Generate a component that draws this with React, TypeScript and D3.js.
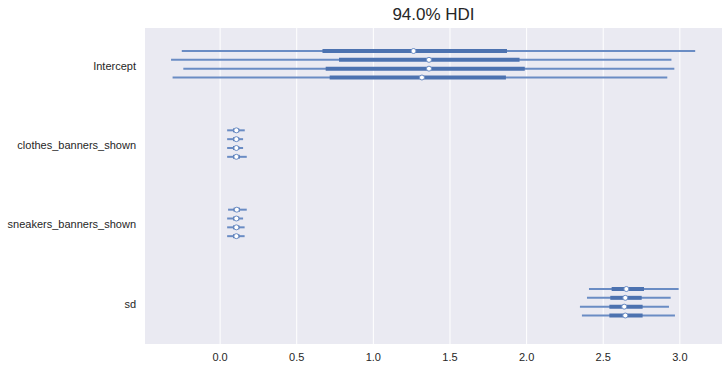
import React, { useEffect, useRef } from "react"
import * as d3 from "d3"

// variables in the forest plot, top to bottom
const variables = ["Intercept", "clothes_banners_shown", "sneakers_banners_shown", "sd"]

// one entry per variable, four chains each
const hdiLow = [
	[-0.25, -0.32, -0.24, -0.31],
	[0.046, 0.046, 0.046, 0.046],
	[0.052, 0.046, 0.046, 0.046],
	[2.407, 2.394, 2.348, 2.361],
]
const hdiHigh = [
	[3.1, 2.945, 2.964, 2.918],
	[0.161, 0.15, 0.15, 0.174],
	[0.174, 0.15, 0.16, 0.16],
	[2.992, 2.94, 2.929, 2.968],
]
const iqrLow = [
	[0.668, 0.776, 0.689, 0.715],
	[0.085, 0.085, 0.085, 0.085],
	[0.088, 0.085, 0.085, 0.085],
	[2.555, 2.546, 2.54, 2.54],
]
const iqrHigh = [
	[1.872, 1.954, 1.988, 1.865],
	[0.125, 0.125, 0.125, 0.128],
	[0.13, 0.125, 0.126, 0.126],
	[2.766, 2.751, 2.757, 2.757],
]
const medians = [
	[1.262, 1.363, 1.363, 1.317],
	[0.106, 0.106, 0.106, 0.106],
	[0.109, 0.106, 0.106, 0.106],
	[2.651, 2.644, 2.637, 2.644],
]
const xTicks = [0, 0.5, 1, 1.5, 2, 2.5, 3]

const W = 728
const H = 368

const ForestPlot = () => {
	const ref = useRef<SVGSVGElement>(null)

	useEffect(() => {
		const left = 145
		const right = 722
		const top = 28
		const bottom = 344
		const c0 = "#4c72b0"

		const svg = d3.select(ref.current)
		svg.selectAll("*").remove()

		const x = d3.scaleLinear().domain([-0.49, 3.275]).range([left, right])
		// group position and the offset of each chain inside a group
		const yGroup = d3.scaleLinear().domain([0, variables.length - 1]).range([51, 289])
		const yChain = d3.scaleLinear().domain([0, 3]).range([0, 26.5])

		svg
			.append("rect")
			.attr("x", left)
			.attr("y", top)
			.attr("width", right - left)
			.attr("height", bottom - top)
			.attr("fill", "#eaeaf2")

		// vertical grid
		svg
			.append("g")
			.selectAll("line")
			.data(xTicks)
			.enter()
			.append("line")
			.attr("x1", d => x(d))
			.attr("x2", d => x(d))
			.attr("y1", top)
			.attr("y2", bottom)
			.attr("stroke", "#fff")
			.attr("stroke-width", 1)

		// x tick labels
		svg
			.append("g")
			.selectAll("text")
			.data(xTicks)
			.enter()
			.append("text")
			.attr("x", d => x(d))
			.attr("y", bottom + 17)
			.attr("text-anchor", "middle")
			.style("font-family", "Arial, 'Liberation Sans', sans-serif")
			.style("font-size", "11px")
			.style("fill", "#262626")
			.text(d => d3.format(".1f")(d))

		// y labels
		svg
			.append("g")
			.selectAll("text")
			.data(variables)
			.enter()
			.append("text")
			.attr("x", 136)
			.attr("y", (d, i) => yGroup(i) + yChain(1.5) + 5.5)
			.attr("text-anchor", "end")
			.style("font-family", "Arial, 'Liberation Sans', sans-serif")
			.style("font-size", "11px")
			.style("fill", "#262626")
			.text(d => d)

		const rows = variables.flatMap((v, i) =>
			[0, 1, 2, 3].map(c => ({
				y: yGroup(i) + yChain(c),
				lo: hdiLow[i][c],
				hi: hdiHigh[i][c],
				qlo: iqrLow[i][c],
				qhi: iqrHigh[i][c],
				med: medians[i][c],
			})),
		)

		const g = svg.append("g")

		// 94% HDI, thin
		g.selectAll("line.hdi")
			.data(rows)
			.enter()
			.append("line")
			.attr("class", "hdi")
			.attr("x1", d => x(d.lo))
			.attr("x2", d => x(d.hi))
			.attr("y1", d => d.y)
			.attr("y2", d => d.y)
			.attr("stroke", "#6a8cc4")
			.attr("stroke-width", 2)

		// interquartile range, thick
		g.selectAll("line.iqr")
			.data(rows)
			.enter()
			.append("line")
			.attr("class", "iqr")
			.attr("x1", d => x(d.qlo))
			.attr("x2", d => x(d.qhi))
			.attr("y1", d => d.y)
			.attr("y2", d => d.y)
			.attr("stroke", c0)
			.attr("stroke-width", 4)

		g.selectAll("circle")
			.data(rows)
			.enter()
			.append("circle")
			.attr("cx", d => x(d.med))
			.attr("cy", d => d.y)
			.attr("r", 2.5)
			.attr("fill", "#fff")
			.attr("stroke", "#6a8cc4")
			.attr("stroke-width", 1)

		svg
			.append("text")
			.attr("x", (left + right) / 2)
			.attr("y", 20)
			.attr("text-anchor", "middle")
			.style("font-family", "Arial, 'Liberation Sans', sans-serif")
			.style("font-size", "17px")
			.style("fill", "#262626")
			.text("94.0% HDI")
	}, [])

	return (
		<svg
			ref={ref}
			width={W}
			height={H}
			style={{ position: "absolute", left: 0, top: 0, background: "#fff" }}
		></svg>
	)
}

export default function App() {
	return <ForestPlot />
}
